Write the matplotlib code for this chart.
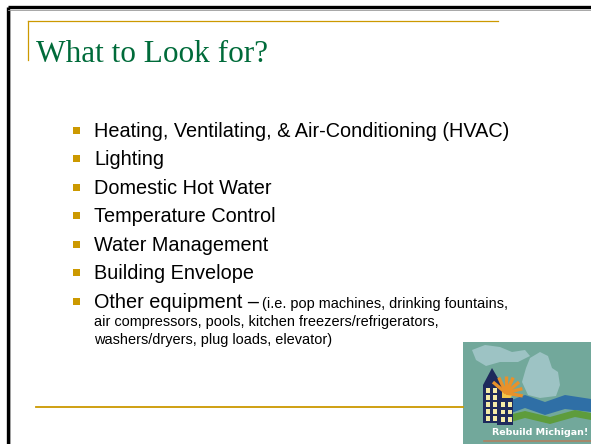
import math
import matplotlib
matplotlib.use("Agg")
import matplotlib.pyplot as plt
import matplotlib.patches as mpatches
from matplotlib.transforms import blended_transform_factory, IdentityTransform

W, H = 591, 444

title = "What to Look for?"
bullets = [
    "Heating, Ventilating, & Air-Conditioning (HVAC)",
    "Lighting",
    "Domestic Hot Water",
    "Temperature Control",
    "Water Management",
    "Building Envelope",
]
last_head = "Other equipment \u2013 "
last_detail = [
    "(i.e. pop machines, drinking fountains,",
    "air compressors, pools, kitchen freezers/refrigerators,",
    "washers/dryers, plug loads, elevator)",
]

green = "#006B3A"
gold = "#CC9900"

fig = plt.figure(figsize=(W / 100, H / 100), dpi=100)
ax = fig.add_axes([0, 0, 1, 1])
ax.set_xlim(0, W)
ax.set_ylim(H, 0)
ax.axis("off")

# slide frame
ax.plot([7.5, W], [7.5, 7.5], color="black", lw=2.4, solid_capstyle="butt")
ax.plot([7.5, 7.5], [7.5, H], color="black", lw=2.4, solid_capstyle="butt")
ax.plot([7.5, W], [9.6, 9.6], color="#999999", lw=0.6)
ax.plot([9.6, 9.6], [9.6, H], color="#999999", lw=0.6)

# title rule
ax.plot([28, 498], [21.5, 21.5], color=gold, lw=0.9)
ax.plot([28, 28], [21.5, 60], color=gold, lw=0.9)
ax.text(36, 62, title, fontsize=22.5, color=green, family="Liberation Serif",
        ha="left", va="baseline")

# bullet list (baselines)
y0, step = 137, 28.4
tx, bx = 94, 76
big, small = 14.3, 10.45
for i, item in enumerate(bullets):
    y = y0 + i * step
    ax.add_patch(mpatches.Rectangle((bx - 3.5, y - 10), 7, 7, color=gold, lw=0))
    ax.text(tx, y, item, fontsize=big, family="Liberation Sans",
            ha="left", va="baseline", color="black")

y = y0 + len(bullets) * step + 0.5
ax.add_patch(mpatches.Rectangle((bx - 3.5, y - 10), 7, 7, color=gold, lw=0))
head = ax.text(tx, y, last_head, fontsize=big, family="Liberation Sans",
               ha="left", va="baseline", color="black")
fig.canvas.draw()
x_after = head.get_window_extent().x1 - 2
ax.text(x_after, y, last_detail[0], fontsize=small, family="Liberation Sans",
        ha="left", va="baseline", color="black",
        transform=blended_transform_factory(IdentityTransform(), ax.transData))
for j, line in enumerate(last_detail[1:]):
    ax.text(tx, y + 18 + j * 18, line, fontsize=small, family="Liberation Sans",
            ha="left", va="baseline", color="black")

# footer rule
ax.plot([36, 463], [406.5, 406.5], color=gold, lw=1.3)

# logo
lx, ly = 463, 342
ax.add_patch(mpatches.Rectangle((lx, ly), W - lx, H - ly, color="#72A89B", lw=0))
# upper peninsula
ax.add_patch(mpatches.Polygon([(472, 350), (485, 345), (500, 347), (512, 352),
                               (525, 350), (530, 356), (518, 362), (500, 362),
                               (486, 366), (476, 360)], color="#9DC3C4", lw=0))
# lower peninsula
ax.add_patch(mpatches.Polygon([(530, 358), (540, 352), (548, 356), (552, 368),
                               (558, 372), (560, 385), (556, 396), (540, 398),
                               (528, 395), (522, 382), (526, 368)],
                              color="#9DC3C4", lw=0))
ax.add_patch(mpatches.Polygon([(506, 402), (525, 395), (545, 402), (565, 395),
                               (591, 399), (591, 412), (565, 409), (545, 415),
                               (525, 408), (506, 415)],
                              color="#2F6FA6", lw=0))
ax.add_patch(mpatches.Polygon([(500, 417), (525, 411), (550, 417), (575, 410),
                               (591, 413), (591, 420), (575, 417), (550, 424),
                               (525, 418), (500, 425)],
                              color="#5E9C3C", lw=0))
for k in range(7):
    a = math.radians(-10 + k * 25)
    ax.plot([506, 506 + 17 * math.cos(a)], [393, 393 - 17 * math.sin(a)],
            color="#E8912A", lw=2.4, solid_capstyle="butt")
ax.add_patch(mpatches.Circle((506, 393), 6.5, color="#F2C64A", lw=0))
ax.add_patch(mpatches.Polygon([(483, 385), (492, 368), (502, 385), (502, 423),
                               (483, 423)], color="#1E2A5C", lw=0))
ax.add_patch(mpatches.Rectangle((497, 398), 16, 27, color="#1E2A5C", lw=0))
for r in range(5):
    for c in range(2):
        ax.add_patch(mpatches.Rectangle((486 + c * 7, 388 + r * 7), 4, 4.5,
                                        color="#F5EBA8", lw=0))
for r in range(3):
    for c in range(2):
        ax.add_patch(mpatches.Rectangle((501 + c * 7, 402 + r * 7.5), 4, 4.5,
                                        color="#F5EBA8", lw=0))
ax.text(540, 432, "Rebuild Michigan!", fontsize=6.8, fontweight="bold",
        color="white", family="DejaVu Sans", ha="center", va="center")
ax.plot([484, 591], [441, 441], color="#C8704A", lw=1.2, alpha=0.7)

fig.savefig("out.png", dpi=100, facecolor="white")
